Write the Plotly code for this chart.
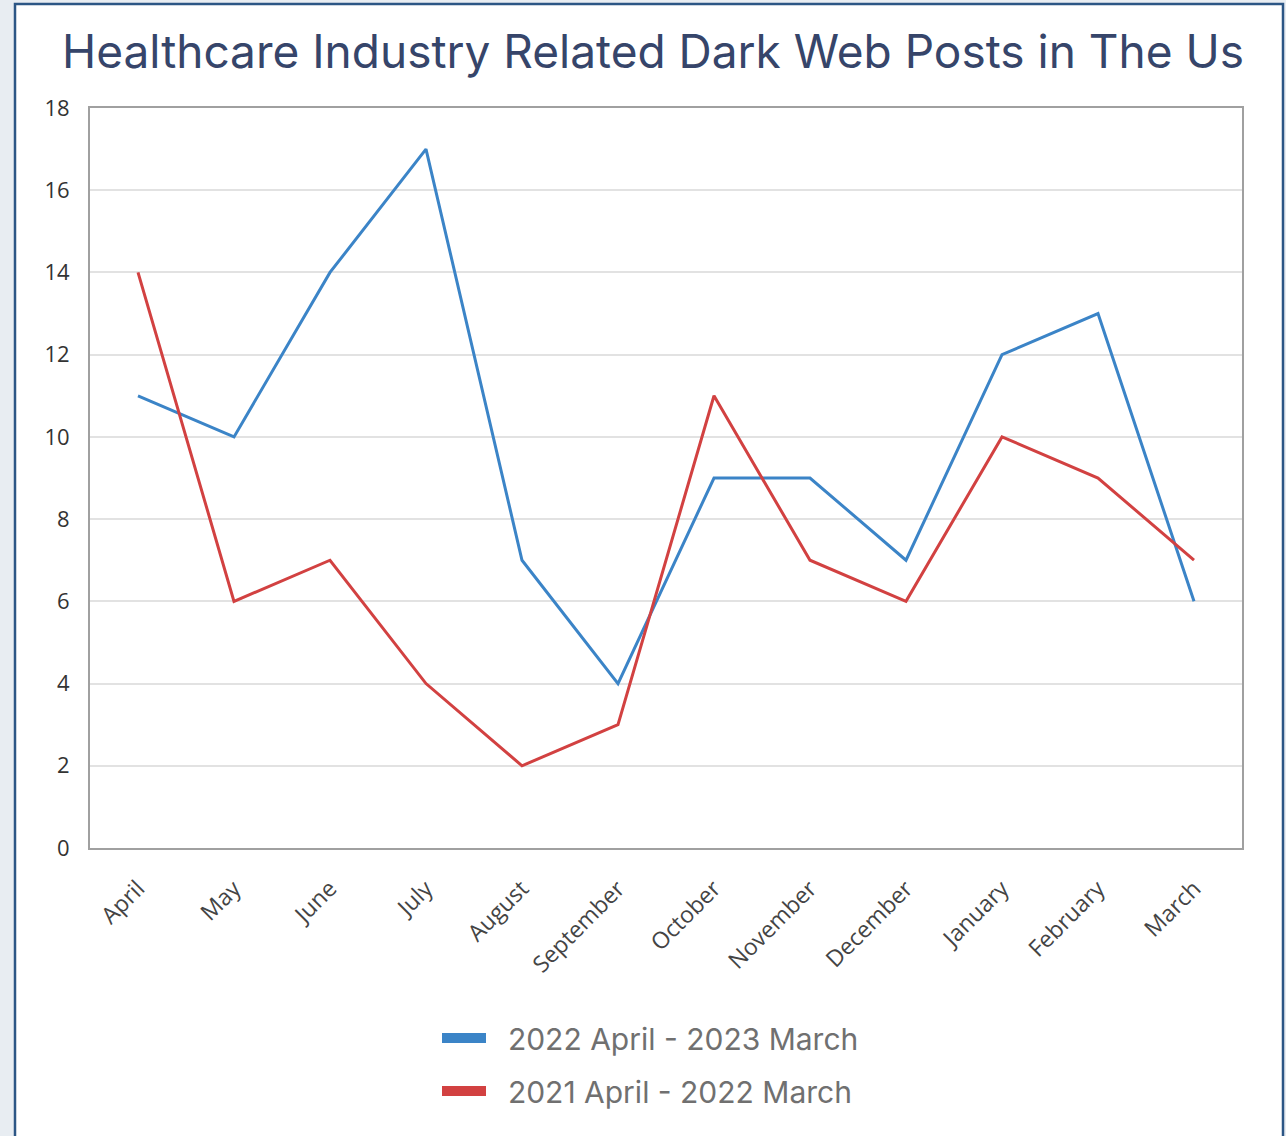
import plotly.graph_objects as go

months = ["April", "May", "June", "July", "August", "September", "October",
          "November", "December", "January", "February", "March"]
series_2022_23 = [11, 10, 14, 17, 7, 4, 9, 9, 7, 12, 13, 6]
series_2021_22 = [14, 6, 7, 4, 2, 3, 11, 7, 6, 10, 9, 7]
name_2022_23 = "2022 April - 2023 March"
name_2021_22 = "2021 April - 2022 March"
y_ticks = [0, 2, 4, 6, 8, 10, 12, 14, 16, 18]

BLUE = "#3b84c7"
RED = "#d24141"

W, H = 1286, 1136
L, R, T, B = 90, 44, 108, 288
pw, ph = W - L - R, H - T - B

def px_x(p):
    return (p - L) / pw

def px_y(p):
    return (H - B - p) / ph

fig = go.Figure()
fig.add_trace(go.Scatter(x=months, y=series_2022_23, mode="lines",
                         line=dict(color=BLUE, width=3), showlegend=False,
                         name=name_2022_23))
fig.add_trace(go.Scatter(x=months, y=series_2021_22, mode="lines",
                         line=dict(color=RED, width=3), showlegend=False,
                         name=name_2021_22))
# legend entries with block swatches
fig.add_trace(go.Scatter(x=[None], y=[None], mode="lines",
                         name="\u00a0\u00a0" + name_2022_23,
                         line=dict(color=BLUE, width=16), legendgroup="a"))
fig.add_trace(go.Scatter(x=[None], y=[None], mode="lines",
                         name="\u00a0\u00a0" + name_2021_22,
                         line=dict(color=RED, width=16), legendgroup="b"))

fig.add_shape(type="rect", xref="paper", yref="paper",
              x0=px_x(15), x1=px_x(1283), y0=px_y(1145), y1=px_y(4),
              fillcolor="white", line=dict(color="#2c5685", width=2.5),
              layer="below")

fig.update_layout(
    width=W, height=H,
    margin=dict(l=L, r=R, t=T, b=B),
    paper_bgcolor="#e8edf2",
    plot_bgcolor="white",
    title=dict(text="Healthcare Industry Related Dark Web Posts in The Us",
               x=653 / W, xref="container", xanchor="center",
               y=1 - 52 / H, yanchor="middle",
               font=dict(family="Inter", size=46, color="#36456a")),
    showlegend=True,
    legend=dict(orientation="v", x=px_x(437), xanchor="left",
                y=px_y(1012), yanchor="top",
                font=dict(family="Inter", size=30, color="#707070"),
                itemwidth=44, tracegroupgap=11, bgcolor="rgba(0,0,0,0)",
                traceorder="grouped"),
    xaxis=dict(type="category", categoryorder="array", categoryarray=months,
               range=[-0.5, 11.5], tickangle=-45, showgrid=False,
               showline=True, mirror=True, linecolor="#a0a0a0", linewidth=2,
               ticks="", ticklabelstandoff=16,
               tickfont=dict(family="Open Sans", size=23, color="#444444")),
    yaxis=dict(range=[0, 18], tickvals=y_ticks, showgrid=True,
               gridcolor="#e2e2e2", gridwidth=1.5, zeroline=False,
               showline=True, mirror=True, linecolor="#a0a0a0", linewidth=2,
               ticks="", ticklabelstandoff=14,
               tickfont=dict(family="Open Sans", size=22, color="#333333")),
)

fig.write_html("out.html")
